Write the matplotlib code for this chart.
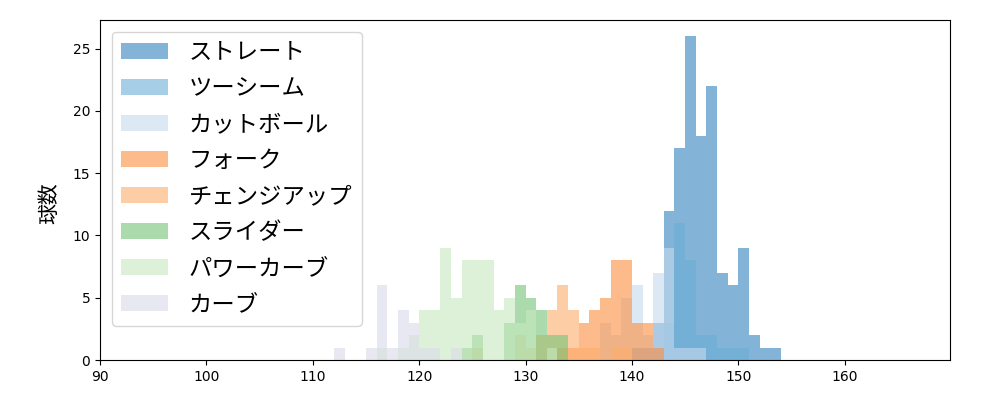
import numpy as np
import matplotlib
matplotlib.use("Agg")
import matplotlib.pyplot as plt

jp_font = ['Noto Sans CJK JP', 'DejaVu Sans']

# counts per 1 km/h bin, keyed by the left edge of the bin
straight_speed = [140, 141, 142, 143, 144, 145, 146, 147, 148, 149, 150, 151, 152, 153]
straight_count = [1, 1, 3, 12, 17, 26, 18, 22, 7, 6, 9, 2, 1, 1]

twoseam_speed = [143, 144, 145, 146, 147, 148, 149, 150]
twoseam_count = [3, 11, 8, 2, 2, 1, 1, 1]

cutter_speed = [137, 138, 139, 140, 141, 142, 143, 144, 145, 146]
cutter_count = [3, 2, 5, 6, 2, 7, 9, 1, 1, 1]

fork_speed = [133, 134, 135, 136, 137, 138, 139, 140, 141, 142]
fork_count = [1, 1, 3, 4, 5, 8, 8, 3, 3, 1]

change_speed = [125, 129, 130, 131, 132, 133, 134, 135, 136, 138, 139]
change_count = [1, 2, 1, 2, 4, 6, 4, 1, 1, 1, 1]

slider_speed = [124, 125, 128, 129, 130, 131, 132, 133]
slider_count = [1, 2, 3, 6, 5, 4, 2, 2]

power_speed = [116, 118, 119, 120, 121, 122, 123, 124, 125, 126, 127, 128, 129, 130, 132]
power_count = [1, 1, 2, 4, 4, 9, 5, 8, 8, 8, 4, 5, 3, 4, 1]

curve_speed = [112, 115, 116, 117, 118, 119, 120, 121, 123]
curve_count = [1, 1, 6, 1, 4, 3, 1, 1, 1]

labels = ['ストレート', 'ツーシーム', 'カットボール', 'フォーク',
          'チェンジアップ', 'スライダー', 'パワーカーブ', 'カーブ']
speeds = [straight_speed, twoseam_speed, cutter_speed, fork_speed,
          change_speed, slider_speed, power_speed, curve_speed]
counts = [straight_count, twoseam_count, cutter_count, fork_count,
          change_count, slider_count, power_count, curve_count]
colors = ['#3182bd', '#6baed6', '#c6dbef', '#fd8d3c',
          '#fdae6b', '#74c476', '#c7e9c0', '#dadaeb']

fig, ax = plt.subplots(figsize=(10, 4), dpi=100)
fig.subplots_adjust(left=0.1, right=0.95, top=0.95, bottom=0.1)

for sp, ct, lab, col in zip(speeds, counts, labels, colors):
    sp = np.array(sp)
    edges = np.arange(sp.min(), sp.max() + 2)
    ax.hist(sp + 0.5, bins=edges, weights=ct, color=col, alpha=0.6, label=lab)

ax.set_xlim(90, 169.9)
ax.set_ylabel('球数', fontsize=15, family=jp_font)
ax.yaxis.set_label_coords(-0.047, 0.46)
ax.legend(loc='upper left', prop={'family': jp_font, 'size': 16.8},
          labelspacing=0.56, handletextpad=0.9)

fig.savefig('out.png')
